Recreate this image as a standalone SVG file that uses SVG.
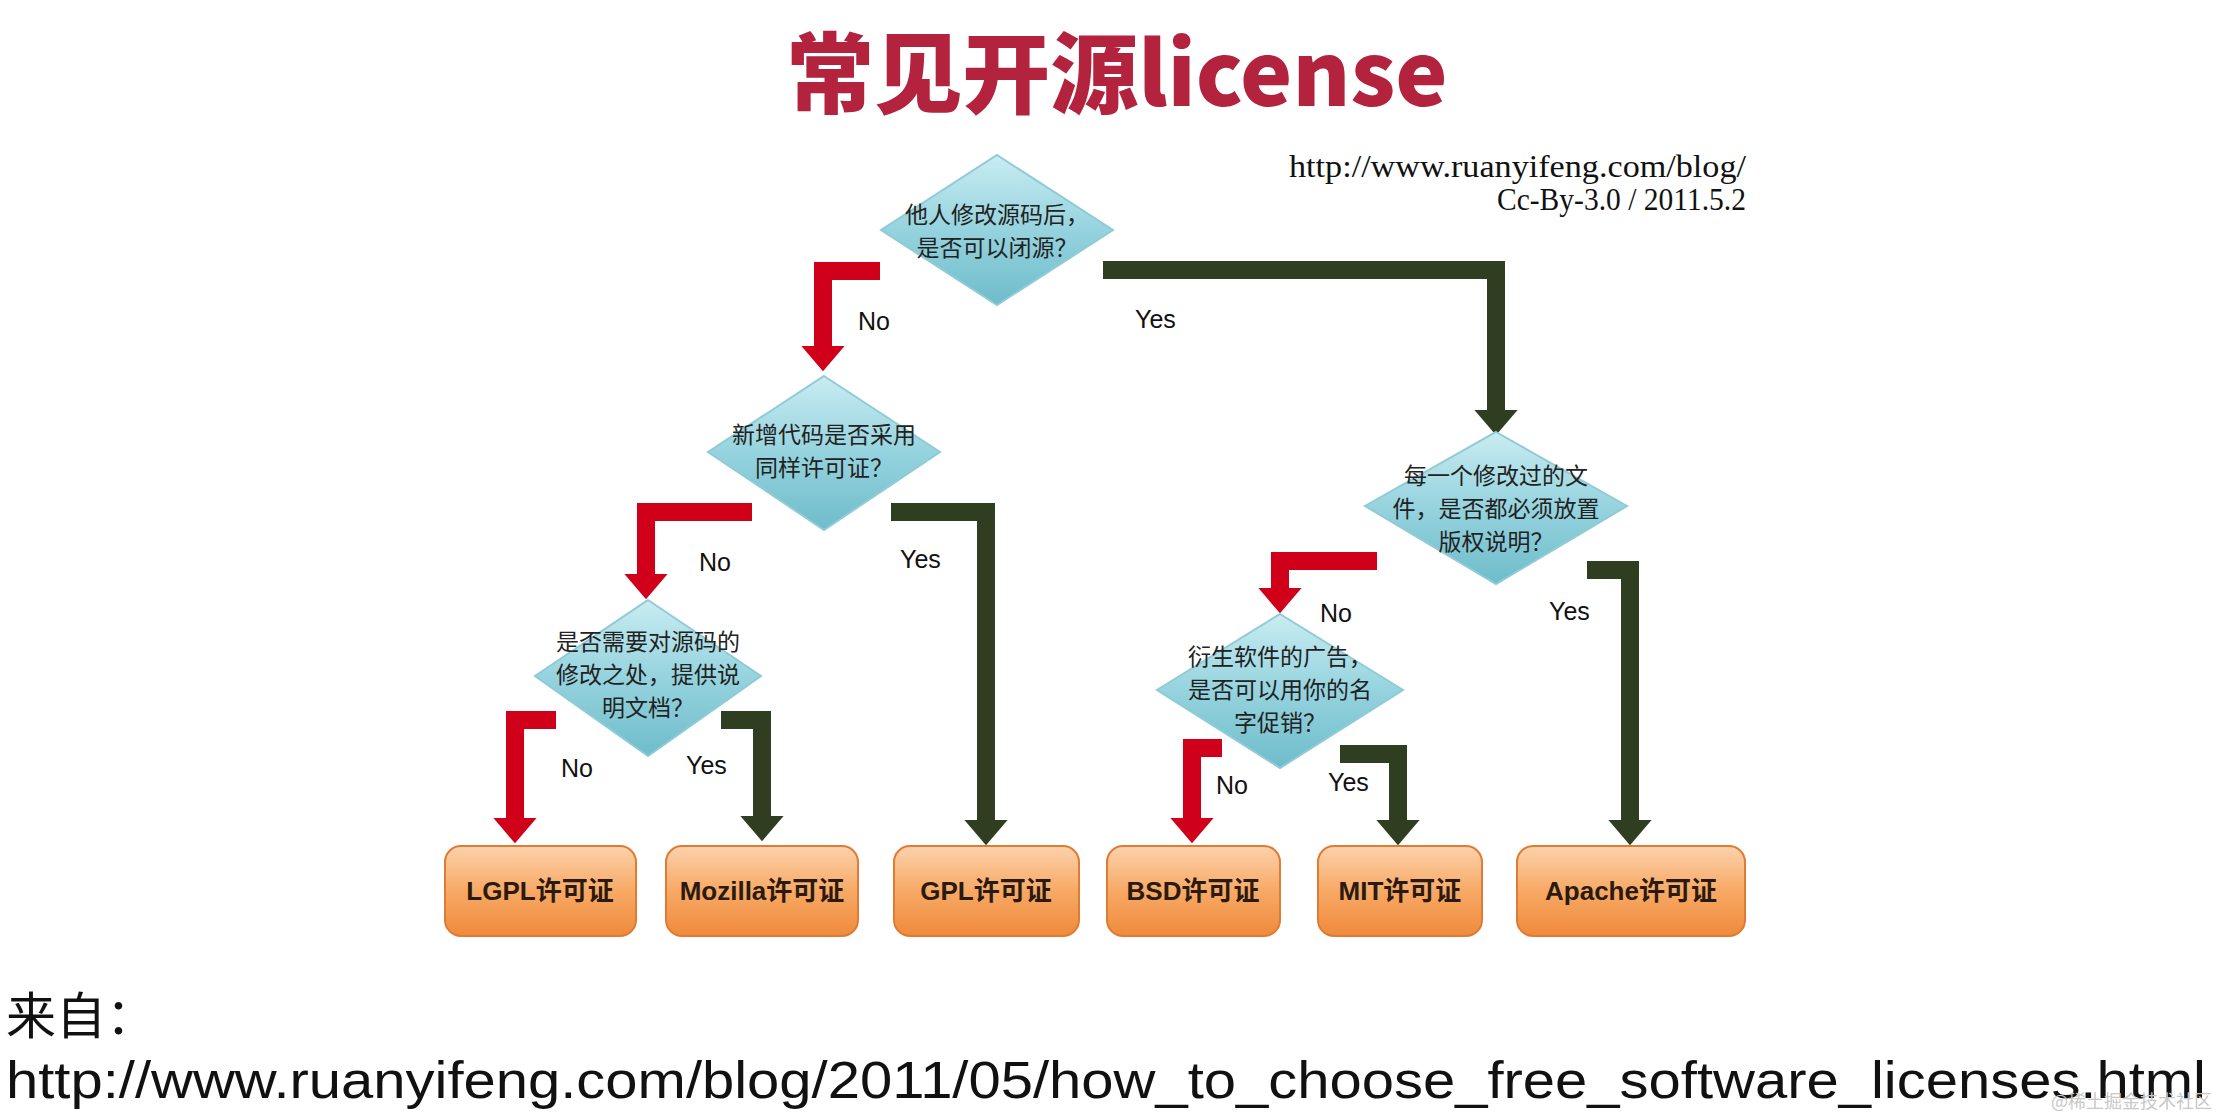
<svg xmlns="http://www.w3.org/2000/svg" width="2217" height="1120" viewBox="0 0 2217 1120">
<defs>
<linearGradient id="dg" x1="0" y1="0" x2="0" y2="1"><stop offset="0" stop-color="#c9ecf2"/><stop offset="0.5" stop-color="#95d3de"/><stop offset="1" stop-color="#6fbccb"/></linearGradient>
<linearGradient id="bg" x1="0" y1="0" x2="0" y2="1"><stop offset="0" stop-color="#fcd2ad"/><stop offset="0.5" stop-color="#f7a965"/><stop offset="1" stop-color="#ef8a3c"/></linearGradient>
<marker id="ar" markerWidth="1.5" markerHeight="2.4" refX="0.05" refY="1.2" orient="auto" markerUnits="strokeWidth" overflow="visible"><path d="M0,0 L1.4,1.2 L0,2.4 z" fill="#d0001a"/></marker>
<marker id="ag" markerWidth="1.5" markerHeight="2.4" refX="0.05" refY="1.2" orient="auto" markerUnits="strokeWidth" overflow="visible"><path d="M0,0 L1.4,1.2 L0,2.4 z" fill="#2f3d20"/></marker>
</defs>
<style>
.d{fill:url(#dg);stroke:#8fcbd6;stroke-width:2}
.b{fill:url(#bg);stroke:#e07b33;stroke-width:2}
.dt{font-family:"Noto Sans CJK SC",sans-serif;font-size:23px;fill:#222;text-anchor:middle}
.bt{font-family:"Liberation Sans","Noto Sans CJK SC",sans-serif;font-size:26px;fill:#2a1a10;text-anchor:middle;font-weight:bold}
.r{fill:none;stroke:#d0001a;stroke-width:18;stroke-linejoin:miter;marker-end:url(#ar)}
.g{fill:none;stroke:#2f3d20;stroke-width:18;stroke-linejoin:miter;marker-end:url(#ag)}
.l{font-family:"Liberation Sans",sans-serif;font-size:25px;fill:#111}
</style>
<rect width="2217" height="1120" fill="#fff"/>
<text x="1117" y="106" text-anchor="middle" font-family="Noto Sans CJK SC,sans-serif" font-weight="900" font-size="88" fill="#b3233d">常见开源license</text>
<text x="1746" y="177" text-anchor="end" font-family="Liberation Serif,serif" font-size="31" fill="#111" textLength="457" lengthAdjust="spacingAndGlyphs">http://www.ruanyifeng.com/blog/</text>
<text x="1746" y="210" text-anchor="end" font-family="Liberation Serif,serif" font-size="31" fill="#111" textLength="249" lengthAdjust="spacingAndGlyphs">Cc-By-3.0 / 2011.5.2</text>
<g id="connectors">
<path class="r" d="M880,271 H823 V347"/>
<path class="g" d="M1103,270 H1496 V411"/>
<path class="r" d="M752,512 H646 V575"/>
<path class="g" d="M891,512 H986 V821"/>
<path class="r" d="M556,720 H515 V819"/>
<path class="g" d="M721,720 H762 V817"/>
<path class="r" d="M1377,561 H1280 V589"/>
<path class="g" d="M1587,570 H1630 V821"/>
<path class="r" d="M1222,748 H1192 V819"/>
<path class="g" d="M1340,754 H1398 V821"/>
<text class="l" x="858" y="330">No</text>
<text class="l" x="1135" y="328">Yes</text>
<text class="l" x="699" y="571">No</text>
<text class="l" x="900" y="568">Yes</text>
<text class="l" x="561" y="777">No</text>
<text class="l" x="686" y="774">Yes</text>
<text class="l" x="1320" y="622">No</text>
<text class="l" x="1549" y="620">Yes</text>
<text class="l" x="1216" y="794">No</text>
<text class="l" x="1328" y="791">Yes</text>
</g>
<g id="q1"><polygon class="d" points="997,155 1113,230 997,305 881,230"/><text class="dt" x="997" y="223">他人修改源码后，</text><text class="dt" x="997" y="256">是否可以闭源？</text></g>
<g id="q2"><polygon class="d" points="824,376 940,452 824,530 708,452"/><text class="dt" x="824" y="443">新增代码是否采用</text><text class="dt" x="824" y="476">同样许可证？</text></g>
<g id="q3"><polygon class="d" points="648,600 761,676 648,756 535,676"/><text class="dt" x="648" y="650">是否需要对源码的</text><text class="dt" x="648" y="683">修改之处，提供说</text><text class="dt" x="648" y="716">明文档？</text></g>
<g id="q4"><polygon class="d" points="1496,432 1627,506 1496,584 1365,506"/><text class="dt" x="1496" y="484">每一个修改过的文</text><text class="dt" x="1496" y="517">件，是否都必须放置</text><text class="dt" x="1496" y="550">版权说明？</text></g>
<g id="q5"><polygon class="d" points="1280,614 1403,690 1280,768 1157,690"/><text class="dt" x="1280" y="665">衍生软件的广告，</text><text class="dt" x="1280" y="698">是否可以用你的名</text><text class="dt" x="1280" y="731">字促销？</text></g>
<g id="lgpl"><rect class="b" x="445" y="846" width="191" height="90" rx="16"/><text class="bt" x="540" y="900">LGPL许可证</text></g>
<g id="mozilla"><rect class="b" x="666" y="846" width="192" height="90" rx="16"/><text class="bt" x="762" y="900">Mozilla许可证</text></g>
<g id="gpl"><rect class="b" x="894" y="846" width="185" height="90" rx="16"/><text class="bt" x="986" y="900">GPL许可证</text></g>
<g id="bsd"><rect class="b" x="1107" y="846" width="173" height="90" rx="16"/><text class="bt" x="1193" y="900">BSD许可证</text></g>
<g id="mit"><rect class="b" x="1318" y="846" width="164" height="90" rx="16"/><text class="bt" x="1400" y="900">MIT许可证</text></g>
<g id="apache"><rect class="b" x="1517" y="846" width="228" height="90" rx="16"/><text class="bt" x="1631" y="900">Apache许可证</text></g>
<text x="6" y="1034" font-family="Noto Sans CJK SC,sans-serif" font-size="50" fill="#111">来自：</text>
<text x="6" y="1098" font-family="Liberation Sans,sans-serif" font-size="52" fill="#111" textLength="2200" lengthAdjust="spacingAndGlyphs">http://www.ruanyifeng.com/blog/2011/05/how_to_choose_free_software_licenses.html</text>
<text x="2212" y="1108" text-anchor="end" font-family="Noto Sans CJK SC,sans-serif" font-size="18" fill="#c8c8c8">@稀土掘金技术社区</text>
</svg>
